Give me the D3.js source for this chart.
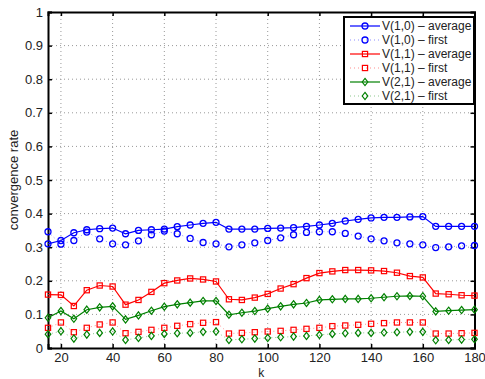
<!DOCTYPE html>
<html lang="en">
<head>
<meta charset="UTF-8">
<title>convergence rate</title>
<script src="https://cdn.jsdelivr.net/npm/d3@7/dist/d3.min.js"></script>
<style>
  body { margin: 0; background: #fff; }
  svg text { font-family: "Liberation Sans", Arial, sans-serif; }
</style>
</head>
<body>
<div id="chart"></div>
<script>
const kValues = d3.range(15, 181, 5);

const v10Avg = [0.310,0.320,0.343,0.352,0.355,0.357,0.340,0.350,0.352,0.354,0.361,0.366,0.371,0.374,0.354,0.354,0.354,0.356,0.357,0.358,0.362,0.366,0.371,0.378,0.383,0.387,0.389,0.389,0.390,0.391,0.362,0.362,0.362,0.362];
const v10First = [0.346,0.309,0.320,0.345,0.325,0.310,0.307,0.319,0.337,0.348,0.340,0.326,0.314,0.310,0.301,0.307,0.313,0.320,0.328,0.337,0.344,0.346,0.346,0.341,0.333,0.325,0.319,0.313,0.310,0.307,0.299,0.301,0.304,0.305];
const v11Avg = [0.159,0.158,0.125,0.172,0.186,0.183,0.129,0.143,0.167,0.193,0.201,0.207,0.204,0.198,0.145,0.143,0.150,0.161,0.177,0.190,0.208,0.223,0.228,0.232,0.232,0.231,0.229,0.224,0.214,0.210,0.162,0.160,0.157,0.156];
const v11First = [0.060,0.076,0.047,0.060,0.070,0.076,0.044,0.048,0.054,0.060,0.066,0.071,0.075,0.077,0.043,0.045,0.047,0.049,0.051,0.054,0.057,0.060,0.065,0.067,0.069,0.072,0.074,0.076,0.076,0.076,0.043,0.043,0.044,0.045];
const v21Avg = [0.090,0.110,0.087,0.114,0.121,0.124,0.085,0.097,0.111,0.123,0.130,0.135,0.140,0.140,0.099,0.105,0.110,0.117,0.124,0.130,0.134,0.143,0.145,0.146,0.146,0.148,0.151,0.154,0.155,0.154,0.109,0.111,0.113,0.114];
const v21First = [0.041,0.050,0.028,0.040,0.045,0.049,0.024,0.030,0.036,0.042,0.044,0.045,0.048,0.049,0.024,0.026,0.028,0.030,0.032,0.034,0.036,0.039,0.042,0.044,0.045,0.045,0.046,0.047,0.048,0.048,0.023,0.024,0.025,0.026];

const xTicks = [20, 40, 60, 80, 100, 120, 140, 160, 180];
const yTicks = d3.range(0, 1.01, 0.1);

const series = [
  { name: "V(1,0) \u2013 average", values: v10Avg, color: "#0000ff", marker: "circle", dashed: false },
  { name: "V(1,0) \u2013 first", values: v10First, color: "#0000ff", marker: "circle", dashed: true },
  { name: "V(1,1) \u2013 average", values: v11Avg, color: "#ff0000", marker: "square", dashed: false },
  { name: "V(1,1) \u2013 first", values: v11First, color: "#ff0000", marker: "square", dashed: true },
  { name: "V(2,1) \u2013 average", values: v21Avg, color: "#008000", marker: "diamond", dashed: false },
  { name: "V(2,1) \u2013 first", values: v21First, color: "#008000", marker: "diamond", dashed: true }
];

const width = 485, height = 379;
const margin = { top: 12, right: 10.5, bottom: 31, left: 48 };

const svg = d3.select("#chart").append("svg")
  .attr("width", width)
  .attr("height", height);

const x = d3.scaleLinear().domain([15, 180]).range([margin.left, width - margin.right]);
const y = d3.scaleLinear().domain([0, 1]).range([height - margin.bottom, margin.top]);

// grid
const grid = svg.append("g").attr("stroke", "#999").attr("stroke-width", 1)
  .attr("stroke-dasharray", "1,3");
grid.selectAll(".gx").data(xTicks.filter(d => d < 180)).join("line")
  .attr("x1", d => x(d)).attr("x2", d => x(d))
  .attr("y1", y(0)).attr("y2", y(1));
grid.selectAll(".gy").data(yTicks.filter(d => d > 0 && d < 1)).join("line")
  .attr("x1", x(15)).attr("x2", x(180))
  .attr("y1", d => y(d)).attr("y2", d => y(d));

// axes
const xAxis = svg.append("g")
  .attr("transform", `translate(0,${y(0)})`)
  .call(d3.axisBottom(x).tickValues(xTicks).tickSize(-4).tickPadding(6).tickFormat(d3.format("d")));
const yAxis = svg.append("g")
  .attr("transform", `translate(${x(15)},0)`)
  .call(d3.axisLeft(y).tickValues(yTicks).tickSize(-4).tickPadding(5).tickFormat(d => d === 0 || Math.abs(d - 1) < 1e-9 ? d3.format("d")(d) : d3.format(".1f")(d)));
const xTop = svg.append("g")
  .attr("transform", `translate(0,${y(1)})`)
  .call(d3.axisTop(x).tickValues(xTicks).tickSize(-4).tickFormat(""));
const yRight = svg.append("g")
  .attr("transform", `translate(${x(180)},0)`)
  .call(d3.axisRight(y).tickValues(yTicks).tickSize(-4).tickFormat(""));

[xAxis, yAxis, xTop, yRight].forEach(a => {
  a.select(".domain").attr("stroke", "#000").attr("stroke-width", 2);
  a.selectAll(".tick line").attr("stroke", "#000").attr("stroke-width", 1.5);
  a.selectAll("text").attr("font-size", 13).attr("fill", "#222");
});
xAxis.selectAll("text").attr("dy", "0.65em");

svg.append("text")
  .attr("x", (x(15) + x(180)) / 2)
  .attr("y", 377)
  .attr("text-anchor", "middle")
  .attr("font-size", 12).attr("fill", "#222")
  .text("k");
svg.append("text")
  .attr("transform", `translate(18,${y(0.5)}) rotate(-90)`)
  .attr("text-anchor", "middle")
  .attr("font-size", 13).attr("fill", "#222")
  .text("convergence rate");

// marker drawing
function drawMarker(g, type, color) {
  if (type === "circle") {
    g.append("circle").attr("r", 3).attr("fill", "none").attr("stroke", color).attr("stroke-width", 1.3);
  } else if (type === "square") {
    g.append("rect").attr("x", -2.6).attr("y", -2.6).attr("width", 5.2).attr("height", 5.2)
      .attr("fill", "none").attr("stroke", color).attr("stroke-width", 1.2);
  } else {
    g.append("path").attr("d", "M0,-3.6L2.8,0L0,3.6L-2.8,0Z")
      .attr("fill", "none").attr("stroke", color).attr("stroke-width", 1.2);
  }
}

const line = d3.line().x((d, i) => x(kValues[i])).y(d => y(d));

const plot = svg.append("g");
series.forEach(s => {
  plot.append("path")
    .datum(s.values)
    .attr("d", line)
    .attr("fill", "none")
    .attr("stroke", s.color)
    .attr("stroke-opacity", s.dashed ? 0.45 : 1)
    .attr("stroke-width", s.dashed ? 1 : 1.2)
    .attr("stroke-dasharray", s.dashed ? "1,3" : null);
  plot.selectAll(null).data(s.values).join("g")
    .attr("transform", (d, i) => `translate(${x(kValues[i])},${y(d)})`)
    .each(function () { drawMarker(d3.select(this), s.marker, s.color); });
});

// legend
const legend = svg.append("g");
legend.append("rect")
  .attr("x", 344).attr("y", 17).attr("width", 130).attr("height", 87)
  .attr("fill", "#fff").attr("stroke", "#000").attr("stroke-width", 2);
series.forEach((s, i) => {
  const ly = 26 + i * 14;
  legend.append("line")
    .attr("x1", 350).attr("x2", 380).attr("y1", ly).attr("y2", ly)
    .attr("stroke", s.color)
    .attr("stroke-opacity", s.dashed ? 0.45 : 1)
    .attr("stroke-width", s.dashed ? 1 : 1.2)
    .attr("stroke-dasharray", s.dashed ? "1,3" : null);
  const m = legend.append("g").attr("transform", `translate(365,${ly})`);
  drawMarker(m, s.marker, s.color);
  legend.append("text")
    .attr("x", 382).attr("y", ly).attr("dy", "0.35em")
    .attr("font-size", 12).attr("fill", "#222")
    .text(s.name);
});
</script>
</body>
</html>
